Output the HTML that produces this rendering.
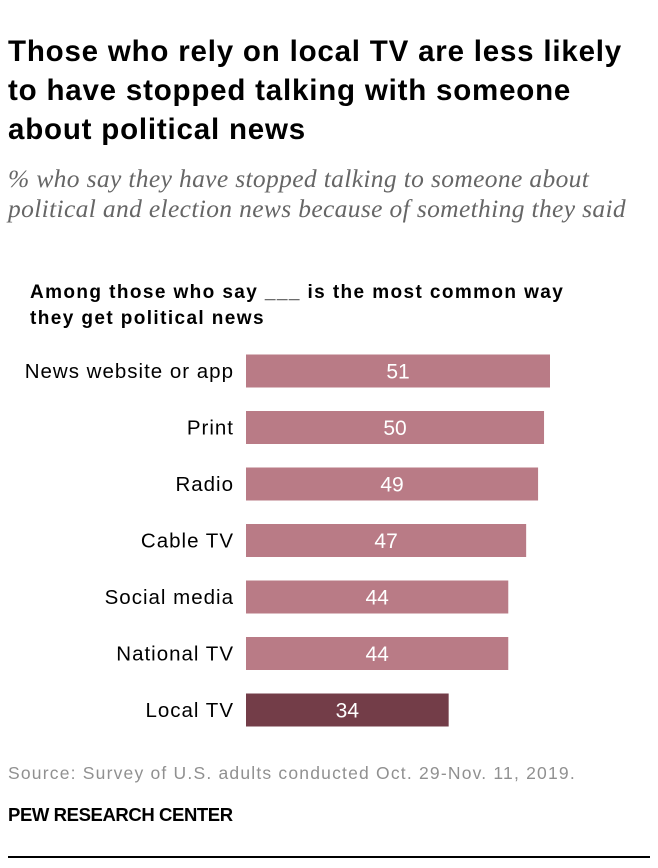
<!DOCTYPE html>
<html><head><meta charset="utf-8"><style>
body{margin:0;width:658px;height:868px;background:#fff;font-family:"Liberation Sans",sans-serif;position:relative;overflow:hidden}
.t{position:absolute;left:8px;top:32px;width:650px;font-size:29.5px;font-weight:bold;line-height:39px;color:#000;letter-spacing:0.8px;white-space:nowrap}
.st{position:absolute;left:8px;top:164px;font-family:"Liberation Serif",serif;font-style:italic;font-size:25.5px;line-height:30px;color:#666;white-space:nowrap;letter-spacing:0.35px}
.hd{position:absolute;left:30px;top:280px;font-size:19px;font-weight:bold;line-height:26px;color:#000;letter-spacing:1.4px;white-space:nowrap}
.src{position:absolute;left:8px;top:763px;font-size:17.5px;color:#909090;letter-spacing:1.2px}
.pew{position:absolute;left:8px;top:804px;font-size:18.5px;font-weight:bold;color:#000;letter-spacing:-0.4px}
.rule{position:absolute;left:8px;top:856px;width:642px;height:2px;background:#000}
</style></head><body>
<div class="t">Those who rely on local TV are less likely<br>to have stopped talking with someone<br>about political news</div>
<div class="st">% who say they have stopped talking to someone about<br>political and election news because of something they said</div>
<div class="hd">Among those who say ___ is the most common way<br>they get political news</div>
<svg id="chart" width="658" height="868" style="position:absolute;left:0;top:0"></svg>
<div class="src">Source: Survey of U.S. adults conducted Oct. 29-Nov. 11, 2019.</div>
<div class="pew">PEW RESEARCH CENTER</div>
<div class="rule"></div>
<script>
const categories=["News website or app","Print","Radio","Cable TV","Social media","National TV","Local TV"];
const values=[51,50,49,47,44,44,34];
const highlight=[false,false,false,false,false,false,true];
const svg=document.getElementById('chart');
const NS='http://www.w3.org/2000/svg';
const x0=246,pxPer=304/51;
function xs(v){return v*pxPer;}
function yc(i){return 371+i*56.5;}
categories.forEach((c,i)=>{
  const r=document.createElementNS(NS,'rect');
  r.setAttribute('x',x0);r.setAttribute('y',yc(i)-16.5);
  r.setAttribute('width',xs(values[i]));r.setAttribute('height',33);
  r.setAttribute('fill',highlight[i]?'#733d48':'#b97b86');
  
  
  svg.appendChild(r);
  const l=document.createElementNS(NS,'text');
  l.setAttribute('x',234);l.setAttribute('y',yc(i)+7);
  l.setAttribute('text-anchor','end');l.setAttribute('font-size','20.5');
  l.setAttribute('letter-spacing','1');
  l.setAttribute('font-family','Liberation Sans, sans-serif');l.textContent=c;
  
  
  svg.appendChild(l);
  const v=document.createElementNS(NS,'text');
  v.setAttribute('x',x0+xs(values[i])/2);v.setAttribute('y',yc(i)+7.5);
  v.setAttribute('text-anchor','middle');v.setAttribute('font-size','21');
  v.setAttribute('fill','#fff');
  v.setAttribute('font-family','Liberation Sans, sans-serif');v.textContent=values[i];
  
  
  svg.appendChild(v);
});
</script>
</body></html>
